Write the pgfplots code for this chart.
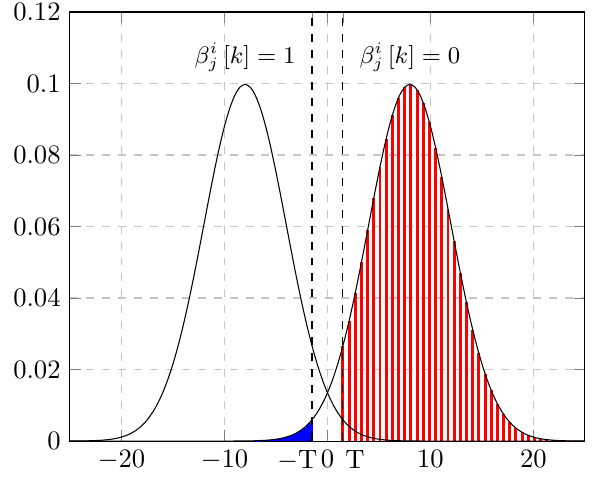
\documentclass[border=0pt]{standalone}
\usepackage{pgfplots}
\usepackage{pgfplotstable}
\pgfplotsset{compat=1.18}

% x, left density (mean -8), right density (mean 8), sigma = 4
\pgfplotstableread{
x      left     right
-25    0.00001  0
-24.5  0.00002  0
-24    0.00003  0
-23.5  0.00005  0
-23    0.00009  0
-22.5  0.00014  0
-22    0.00022  0
-21.5  0.00034  0
-21    0.00051  0
-20.5  0.00076  0
-20    0.00111  0
-19.5  0.00160  0
-19    0.00227  0
-18.5  0.00318  0
-18    0.00438  0
-17.5  0.00594  0
-17    0.00794  0
-16.5  0.01043  0
-16    0.01350  0
-15.5  0.01720  0
-15    0.02157  0
-14.5  0.02664  0
-14    0.03238  0
-13.5  0.03875  0
-13    0.04566  0
-12.5  0.05297  0
-12    0.06049  0
-11.5  0.06801  0
-11    0.07529  0
-10.5  0.08204  0
-10    0.08802  0
-9.5   0.09296  0
-9     0.09667  0.00001
-8.5   0.09896  0.00002
-8     0.09974  0.00003
-7.5   0.09896  0.00005
-7     0.09667  0.00009
-6.5   0.09296  0.00014
-6     0.08802  0.00022
-5.5   0.08204  0.00034
-5     0.07529  0.00051
-4.5   0.06801  0.00076
-4     0.06049  0.00111
-3.5   0.05297  0.00160
-3     0.04566  0.00227
-2.5   0.03875  0.00318
-2     0.03238  0.00438
-1.5   0.02664  0.00594
-1     0.02157  0.00794
-0.5   0.01720  0.01043
0      0.01350  0.01350
0.5    0.01043  0.01720
1      0.00794  0.02157
1.5    0.00594  0.02664
2      0.00438  0.03238
2.5    0.00318  0.03875
3      0.00227  0.04566
3.5    0.00160  0.05297
4      0.00111  0.06049
4.5    0.00076  0.06801
5      0.00051  0.07529
5.5    0.00034  0.08204
6      0.00022  0.08802
6.5    0.00014  0.09296
7      0.00009  0.09667
7.5    0.00005  0.09896
8      0.00003  0.09974
8.5    0.00002  0.09896
9      0.00001  0.09667
9.5    0        0.09296
10     0        0.08802
10.5   0        0.08204
11     0        0.07529
11.5   0        0.06801
12     0        0.06049
12.5   0        0.05297
13     0        0.04566
13.5   0        0.03875
14     0        0.03238
14.5   0        0.02664
15     0        0.02157
15.5   0        0.01720
16     0        0.01350
16.5   0        0.01043
17     0        0.00794
17.5   0        0.00594
18     0        0.00438
18.5   0        0.00318
19     0        0.00227
19.5   0        0.00160
20     0        0.00111
20.5   0        0.00076
21     0        0.00051
21.5   0        0.00034
22     0        0.00022
22.5   0        0.00014
23     0        0.00009
23.5   0        0.00005
24     0        0.00003
24.5   0        0.00002
25     0        0.00001
}\curves

% right density below -T
\pgfplotstableread{
x      y
-7     0.00009
-6.75  0.00011
-6.5   0.00014
-6.25  0.00017
-6     0.00022
-5.75  0.00027
-5.5   0.00034
-5.25  0.00041
-5     0.00051
-4.75  0.00062
-4.5   0.00076
-4.25  0.00092
-4     0.00111
-3.75  0.00133
-3.5   0.00160
-3.25  0.00191
-3     0.00227
-2.75  0.00269
-2.5   0.00318
-2.25  0.00374
-2     0.00438
-1.75  0.00511
-1.5   0.00594
}\bluetail

% right density above T
\pgfplotstableread{
x     y
1.5   0.02664
2.1   0.03361
2.7   0.04146
3.3   0.05001
3.9   0.05898
4.5   0.06801
5.1   0.07669
5.7   0.08454
6.3   0.09112
6.9   0.09604
7.5   0.09896
8.1   0.09970
8.7   0.09822
9.3   0.09461
9.9   0.08910
10.5  0.08204
11.1  0.07386
11.7  0.06502
12.3  0.05596
12.9  0.04710
13.5  0.03875
14.1  0.03118
14.7  0.02453
15.3  0.01886
15.9  0.01419
16.5  0.01043
17.1  0.00750
17.7  0.00527
18.3  0.00362
18.9  0.00243
19.5  0.00160
20.1  0.00103
20.7  0.00065
21.3  0.00040
21.9  0.00024
22.5  0.00014
23.1  0.00008
23.7  0.00004
24.3  0.00002
24.9  0.00001
}\redarea

\begin{document}
\begin{tikzpicture}
\begin{axis}[
    name=ax,
    scale only axis,
    width=193.6pt, height=161.3pt,
    xmin=-25, xmax=25,
    ymin=0, ymax=0.12,
    xtick={-20,-10,-1.5,0,1.5,10,20},
    xticklabels={$-20$,$-10$,{$-\mathrm{T}$\rule{11pt}{0pt}},$0$,{\rule{9pt}{0pt}$\mathrm{T}$},$10$,$20$},
    ytick={0,0.02,0.04,0.06,0.08,0.1,0.12},
    yticklabels={$0$,$0.02$,$0.04$,$0.06$,$0.08$,$0.1$,$0.12$},
    grid=major,
    grid style={dashed, gray!45},
]
\addplot[ycomb, red, line width=1.1pt, mark=none] table[x=x, y=y] {\redarea};
\addplot[ycomb, blue, line width=1pt, mark=none] table[x=x, y=y] {\bluetail};
\addplot[black, smooth, mark=none] table[x=x, y=left] {\curves};
\addplot[black, smooth, mark=none] table[x=x, y=right] {\curves};
\addplot[black, dashed, mark=none] coordinates {(-1.5,0) (-1.5,0.12)};
\addplot[black, dashed, mark=none] coordinates {(1.5,0) (1.5,0.12)};
\node[font=\small] at (axis cs:-8,0.1074) {$\beta_j^i\left[k\right]=1$};
\node[font=\small] at (axis cs:8,0.1074) {$\beta_j^i\left[k\right]=0$};
\end{axis}
\pgfresetboundingbox
\useasboundingbox ([shift={(-26.3pt,-14.3pt)}]ax.south west) rectangle ([shift={(4.9pt,4.5pt)}]ax.north east);
\end{tikzpicture}
\end{document}
